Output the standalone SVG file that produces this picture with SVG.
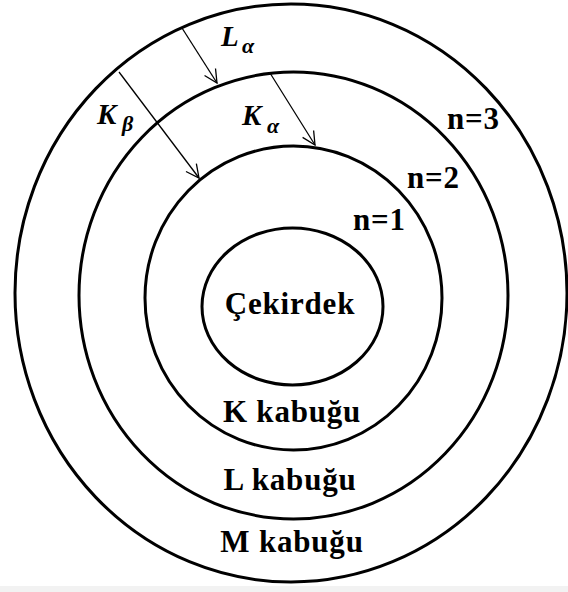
<svg xmlns="http://www.w3.org/2000/svg" width="568" height="592" viewBox="0 0 568 592">
<style>
.shell{fill:none;stroke:#000;stroke-width:3}
.lbl{font-family:"Liberation Serif","Times New Roman",serif;font-weight:bold;font-size:31px;letter-spacing:0.8px;fill:#000}
.sym{font-family:"Liberation Serif","Times New Roman",serif;font-weight:bold;font-style:italic;font-size:29px;fill:#000}
.sub{font-size:22px}
.arr{stroke:#000;stroke-width:1.3;fill:none;marker-end:url(#ah)}
</style>
<defs>
<marker id="ah" markerUnits="userSpaceOnUse" markerWidth="20" markerHeight="20" refX="0" refY="0" viewBox="-14 -10 18 20" orient="auto">
<path d="M-13,-6.5 L0,0 L-13,6.5" fill="none" stroke="#000" stroke-width="1.3"/>
</marker>
</defs>
<rect width="568" height="592" fill="#fff"/>
<rect y="586" width="568" height="6" fill="#f2f2f2"/>
<g id="shell-M">
<ellipse class="shell" cx="291" cy="293" rx="276" ry="289"/>
<text class="lbl" x="292" y="552" text-anchor="middle">M kabuğu</text>
</g>
<g id="shell-L">
<ellipse class="shell" cx="293.5" cy="295.5" rx="214.5" ry="223.5"/>
<text class="lbl" x="290" y="490" text-anchor="middle">L kabuğu</text>
</g>
<g id="shell-K">
<ellipse class="shell" cx="293.5" cy="298" rx="148.5" ry="152"/>
<text class="lbl" x="292" y="422" text-anchor="middle">K kabuğu</text>
</g>
<g id="nucleus">
<ellipse class="shell" cx="292.5" cy="306.5" rx="90.5" ry="78.5"/>
<text class="lbl" x="290" y="314" text-anchor="middle">Çekirdek</text>
</g>
<g id="levels">
<text class="lbl" x="447" y="129">n=3</text>
<text class="lbl" x="407" y="188">n=2</text>
<text class="lbl" x="353" y="230">n=1</text>
</g>
<g id="connectors">
<line class="arr" x1="182" y1="28" x2="217" y2="83"/>
<line class="arr" x1="119" y1="72" x2="199" y2="178"/>
<line class="arr" x1="270" y1="73" x2="315" y2="145"/>
</g>
<g id="transition-labels">
<text class="sym" x="221" y="46">L<tspan class="sub" x="242" dy="7">α</tspan></text>
<text class="sym" x="97" y="124">K<tspan class="sub" x="122" dy="7">β</tspan></text>
<text class="sym" x="242" y="125">K<tspan class="sub" x="267" dy="8">α</tspan></text>
</g>
</svg>
